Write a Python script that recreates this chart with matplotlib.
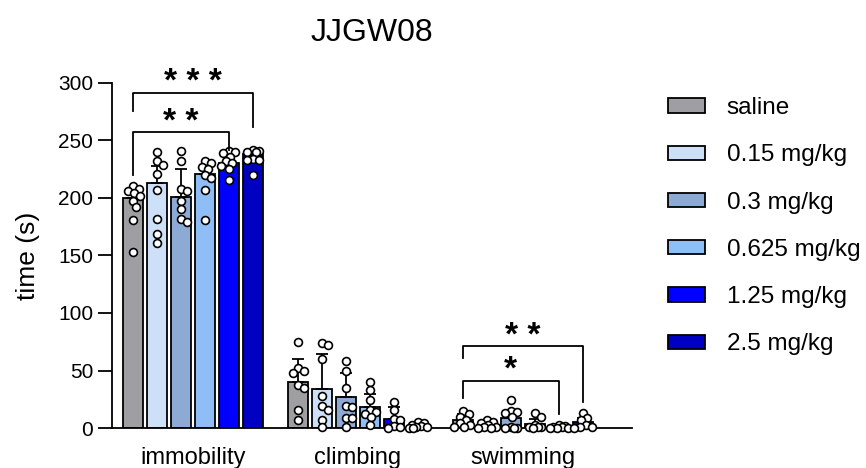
import numpy as np
import matplotlib
matplotlib.use("Agg")
import matplotlib.pyplot as plt
from matplotlib.patches import Patch

plt.rcParams['font.family'] = ['Liberation Sans', 'DejaVu Sans']

title = "JJGW08"
categories = ["immobility", "climbing", "swimming"]
groups = ["saline", "0.15 mg/kg", "0.3 mg/kg", "0.625 mg/kg", "1.25 mg/kg", "2.5 mg/kg"]
colors = ["#9e9ea3", "#cde0f8", "#8caad3", "#8fbdf6", "#0000fe", "#0000c2"]

# means[category][group]
means_immobility = [200, 213, 201, 221, 230, 238]
means_climbing = [40, 34, 27, 18, 8, 2]
means_swimming = [7, 3, 9, 3.5, 1, 5]
sd_immobility = [9, 15, 24, 6, 6, 3]
sd_climbing = [20, 30, 21, 12, 10, 1.5]
sd_swimming = [5, 2, 7, 4, 1, 4]

pts_immobility = [
    [210, 208, 206, 204, 202, 197, 192, 181, 153],
    [240, 232, 229, 221, 207, 182, 169, 161],
    [241, 232, 208, 206, 197, 190, 182, 179],
    [232, 230, 227, 225, 220, 217, 207, 181],
    [241, 240, 239, 236, 232, 230, 228, 225, 216],
    [242, 241, 240, 240, 234, 233, 233, 220],
]
pts_climbing = [
    [75, 52, 50, 48, 37, 35, 16, 7],
    [74, 72, 60, 28, 19, 16, 7, 1],
    [58, 50, 35, 19, 18, 9, 9, 1],
    [40, 33, 24, 16, 14, 12, 10, 3],
    [23, 16, 8, 7, 2, 1, 0],
    [5, 4, 3, 2, 1, 1, 0, 0],
]
pts_swimming = [
    [15, 12, 10, 7, 4, 3, 1, 1],
    [7, 5, 4, 3, 1, 1, 0, 0],
    [24, 15, 14, 13, 10, 1, 0, 0, 0],
    [13, 10, 3, 1, 1, 1, 0],
    [3, 2, 1, 1, 0, 0, 0],
    [13, 9, 7, 3, 1, 1, 0],
]

# significance: (category, group a, group b, bracket height, left leg end, right leg end, label, label centre)
sig_brackets = [
    (0, 0, 4, 257, 220, 242, "* *", 275),
    (0, 0, 5, 291, 276, 262, "* * *", 310),
    (2, 0, 4, 41, 26, 12, "*", 60),
    (2, 0, 5, 71, 61, 23, "* *", 89),
]

means = [means_immobility, means_climbing, means_swimming]
sds = [sd_immobility, sd_climbing, sd_swimming]
pts = [pts_immobility, pts_climbing, pts_swimming]

W, H = 866, 468
fig = plt.figure(figsize=(W / 100, H / 100), dpi=100)
ax = fig.add_axes([112 / W, (H - 428) / H, (632 - 112) / W, 345 / H])

gsp = 6.875
bw = 0.83
xlim = (-3.36, 18.3)
ylim = (0, 300)
ax.set_xlim(*xlim)
ax.set_ylim(*ylim)

# pixel scales for a simple deterministic swarm layout
px_x = (632 - 112) / (xlim[1] - xlim[0])
px_y = 345 / (ylim[1] - ylim[0])
dot_d = 7.5

def swarm(vals, center):
    placed = []
    xs = []
    cands = [0.0]
    for j in range(1, 7):
        cands += [j * 1.5, -j * 1.5]
    for v in vals:
        yv = v * px_y
        best, bestd = 0.0, -1
        chosen = None
        for c in cands:
            md = min([np.hypot(px - c, py - yv) for (px, py) in placed] + [1e9])
            if md >= dot_d * 0.8:
                chosen = c
                break
            if md > bestd:
                best, bestd = c, md
        if chosen is None:
            chosen = best
        placed.append((chosen, yv))
        xs.append(center + chosen / px_x)
    return xs

for ci in range(3):
    for gi in range(6):
        xc = ci * gsp + (gi - 2.5)
        ax.bar(xc, means[ci][gi], width=bw, color=colors[gi], edgecolor="black",
               linewidth=1.3, zorder=2)
        ax.errorbar(xc, means[ci][gi], yerr=[[0], [sds[ci][gi]]], color="black",
                    capsize=4, elinewidth=1.3, capthick=1.3, zorder=3)
        vals = pts[ci][gi]
        xs = swarm(vals, xc)
        ax.scatter(xs, vals, s=32, facecolor="white", edgecolor="black",
                   linewidth=1.2, zorder=4, clip_on=False)

for (ci, ga, gb, h, la, rb, lab, ly) in sig_brackets:
    xa = ci * gsp + (ga - 2.5)
    xb = ci * gsp + (gb - 2.5)
    ax.plot([xa, xa, xb, xb], [la, h, h, rb], color="black", lw=1.3,
            clip_on=False, zorder=5)
    ax.annotate(lab, xy=((xa + xb) / 2, ly), xytext=(0, -14),
                textcoords="offset points", ha="center", va="baseline",
                fontsize=24, fontweight="bold", annotation_clip=False)

ax.spines["top"].set_visible(False)
ax.spines["right"].set_visible(False)
for s in ("left", "bottom"):
    ax.spines[s].set_linewidth(1.3)
ax.set_yticks([0, 50, 100, 150, 200, 250, 300])
ax.tick_params(axis="y", labelsize=15, width=1.3, length=10)
ax.set_xticks([ci * gsp for ci in range(3)])
ax.set_xticklabels(categories, fontsize=17)
ax.tick_params(axis="x", length=0, pad=14)
ax.set_ylabel("time (s)", fontsize=19, labelpad=13)
ax.set_title(title, fontsize=23, pad=30)

handles = [Patch(facecolor=c, edgecolor="black", linewidth=1.3) for c in colors]
fig.legend(handles, groups, loc="upper left", bbox_to_anchor=(668 / W, 1 - 97 / H),
           frameon=False, fontsize=17.5, handlelength=1.52, handleheight=0.53,
           handletextpad=0.9, labelspacing=1.04, borderpad=0, borderaxespad=0)

fig.savefig("out.png", dpi=100)
